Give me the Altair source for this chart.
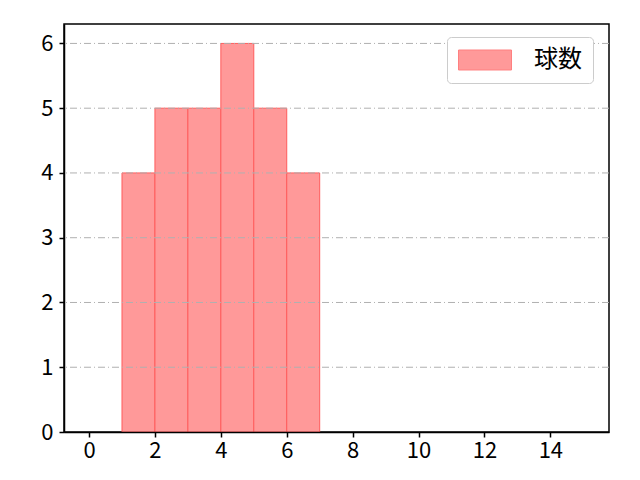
import altair as alt
import pandas as pd

bin_start = [1, 2, 3, 4, 5, 6]
bin_end = [2, 3, 4, 5, 6, 7]
counts = [4, 5, 5, 6, 5, 4]
x_ticks = [0, 2, 4, 6, 8, 10, 12, 14]
y_ticks = [0, 1, 2, 3, 4, 5, 6]
x_domain = [-0.76, 15.78]
y_domain = [0, 6.3]
series_name = "球数"

FONT = "Noto Sans CJK JP"

df = pd.DataFrame({
    "start": bin_start,
    "end": bin_end,
    "count": counts,
    "series": [series_name] * len(counts),
})
# grid line at 0 is hidden behind the x axis in the reference
grid_df = pd.DataFrame({"y": [v for v in y_ticks if v > 0]})

x_scale = alt.Scale(domain=x_domain, nice=False, zero=False)
y_scale = alt.Scale(domain=y_domain, nice=False)

axis_common = dict(
    title=None, grid=False, domainColor="black", domainWidth=1.5,
    tickColor="black", tickWidth=1.5, tickSize=5, format="d", zindex=1,
    labelFont=FONT, labelFontSize=22, labelColor="black",
)

bars = alt.Chart(df).mark_rect(stroke="#ff5c5c", strokeWidth=1).encode(
    x=alt.X("start:Q", scale=x_scale,
            axis=alt.Axis(values=x_ticks, labelPadding=3, **axis_common)),
    x2="end:Q",
    y=alt.Y("count:Q", scale=y_scale,
            axis=alt.Axis(values=y_ticks, labelPadding=6, **axis_common)),
    y2=alt.datum(0),
    color=alt.Color(
        "series:N",
        scale=alt.Scale(domain=[series_name], range=["#ff9999"]),
        legend=alt.Legend(
            title=None, orient="none", legendX=383, legendY=13,
            symbolType="M-1,-0.377L1,-0.377L1,0.377L-1,0.377Z",
            symbolSize=2809, symbolStrokeColor="#ff8080", symbolStrokeWidth=1,
            symbolOpacity=1, clipHeight=24,
            labelFont=FONT, labelFontSize=24, labelColor="black", labelOffset=22,
            padding=11, strokeColor="#cccccc", fillColor="white",
            cornerRadius=4,
        ),
    ),
)

grid = alt.Chart(grid_df).mark_rule(
    color="#b0b0b0", strokeDash=[7, 3, 1, 3], strokeWidth=1
).encode(y=alt.Y("y:Q", scale=y_scale))

chart = alt.layer(bars, grid).properties(
    width=545, height=408,
    background="white",
    autosize=alt.AutoSizeParams(type="none"),
    padding={"left": 56, "top": 16, "right": 23, "bottom": 40},
).configure_view(stroke="black", strokeWidth=1.5)

chart.save("out.html", embed_options={"renderer": "svg", "actions": False})
